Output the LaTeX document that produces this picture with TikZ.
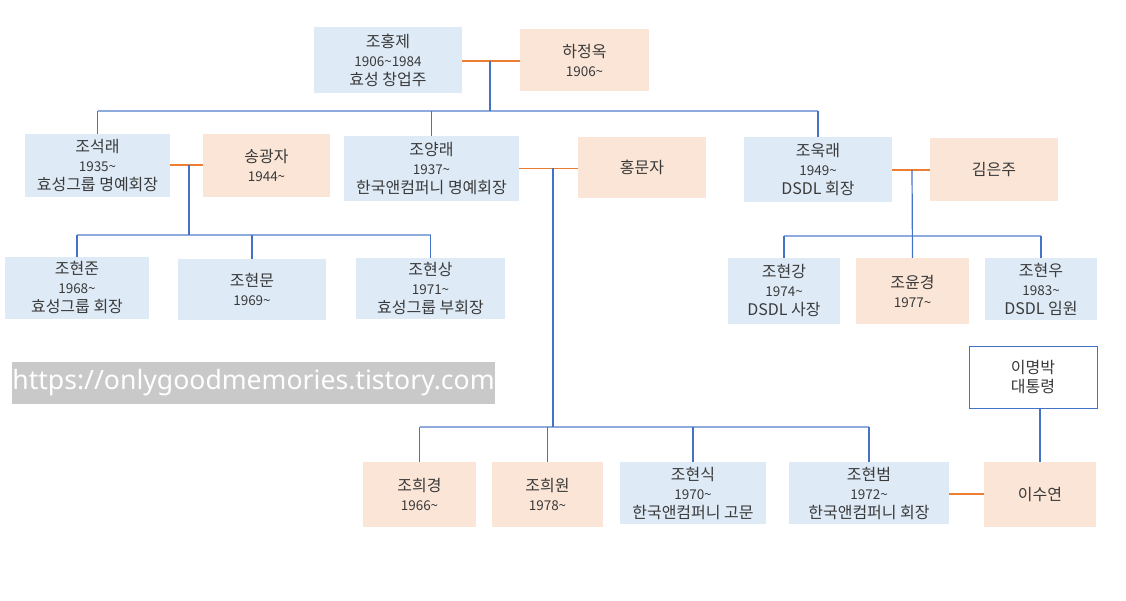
\documentclass[tikz,border=0pt]{standalone}
\usepackage{fontspec}
\setmainfont{Noto Sans CJK KR}
\newfontfamily\urlfont{Noto Sans}
\definecolor{bfill}{HTML}{DEEBF7}
\definecolor{ofill}{HTML}{FBE5D6}
\definecolor{bline}{HTML}{4472C4}
\definecolor{busline}{HTML}{8FAADC}
\definecolor{oline}{HTML}{ED7D31}
\definecolor{txt}{HTML}{3A3A3A}
\definecolor{urlgray}{HTML}{C9C9C9}
\newcommand{\nm}[1]{{\fontsize{16}{19}\selectfont #1}}
\newcommand{\yr}[1]{{\fontsize{13.5}{19}\selectfont #1}}
\newcommand{\ds}[1]{{\fontsize{16}{19}\selectfont #1}}
\tikzset{
  person/.style={inner sep=0pt, align=center, text=txt, font=\fontsize{16}{19}\selectfont},
  bperson/.style={person, fill=bfill},
  operson/.style={person, fill=ofill},
  marr/.style={draw=oline, line width=1.2pt},
  kid/.style={draw=bline, line width=1.2pt},
  bus/.style={draw=busline, line width=2pt},
}
\begin{document}
\begin{tikzpicture}[x=1pt,y=-1pt]
\useasboundingbox (0,0) rectangle (1126,600);
% generation 1
\node[bperson, minimum width=148pt, minimum height=66pt] (hong) at (388,60) {\nm{조홍제}\\\yr{1906\textasciitilde1984}\\\ds{효성 창업주}};
\node[operson, minimum width=129pt, minimum height=62pt] (ha) at (584.5,60) {\nm{하정옥}\\\yr{1906\textasciitilde}};
% generation 2
\node[bperson, minimum width=145pt, minimum height=63pt] (seok) at (97.5,165.5) {\nm{조석래}\\\yr{1935\textasciitilde}\\\ds{효성그룹 명예회장}};
\node[operson, minimum width=127pt, minimum height=63pt] (song) at (266.5,165.5) {\nm{송광자}\\\yr{1944\textasciitilde}};
\node[bperson, minimum width=175pt, minimum height=65pt] (yang) at (431.5,168.5) {\nm{조양래}\\\yr{1937\textasciitilde}\\\ds{한국앤컴퍼니 명예회장}};
\node[operson, minimum width=128pt, minimum height=61pt] (hongm) at (642,167.5) {\nm{홍문자}};
\node[bperson, minimum width=148pt, minimum height=65pt] (wook) at (818,169.5) {\nm{조욱래}\\\yr{1949\textasciitilde}\\\ds{DSDL 회장}};
\node[operson, minimum width=128pt, minimum height=63pt] (kim) at (994,169.5) {\nm{김은주}};
% generation 3 (left)
\node[bperson, minimum width=144pt, minimum height=62pt] (hj) at (77,288) {\nm{조현준}\\\yr{1968\textasciitilde}\\\ds{효성그룹 회장}};
\node[bperson, minimum width=148pt, minimum height=61pt] (hm) at (252,289.5) {\nm{조현문}\\\yr{1969\textasciitilde}};
\node[bperson, minimum width=149pt, minimum height=61pt] (hs) at (430.5,288.5) {\nm{조현상}\\\yr{1971\textasciitilde}\\\ds{효성그룹 부회장}};
% generation 3 (right)
\node[bperson, minimum width=112pt, minimum height=66pt] (hg) at (784,291) {\nm{조현강}\\\yr{1974\textasciitilde}\\\ds{DSDL 사장}};
\node[operson, minimum width=113pt, minimum height=66pt] (yk) at (912.5,291) {\nm{조윤경}\\\yr{1977\textasciitilde}};
\node[bperson, minimum width=112pt, minimum height=62pt] (hw) at (1041,289) {\nm{조현우}\\\yr{1983\textasciitilde}\\\ds{DSDL 임원}};
% generation 3 (middle, bottom)
\node[operson, minimum width=113pt, minimum height=65pt] (hk) at (419.5,494.5) {\nm{조희경}\\\yr{1966\textasciitilde}};
\node[operson, minimum width=111pt, minimum height=65pt] (hwn) at (547.5,494.5) {\nm{조희원}\\\yr{1978\textasciitilde}};
\node[bperson, minimum width=146pt, minimum height=62pt] (hsk) at (693,493) {\nm{조현식}\\\yr{1970\textasciitilde}\\\ds{한국앤컴퍼니 고문}};
\node[bperson, minimum width=160pt, minimum height=62pt] (hb) at (869,493) {\nm{조현범}\\\yr{1972\textasciitilde}\\\ds{한국앤컴퍼니 회장}};
\node[operson, minimum width=112pt, minimum height=65pt] (lee) at (1040,494.5) {\nm{이수연}};
\node[person, draw=bline, fill=white, line width=1pt, minimum width=128pt, minimum height=62pt] (mb) at (1033,377) {\ds{이명박}\\\ds{대통령}};
% url watermark
\node[fill=urlgray, text=white, inner sep=0pt, minimum width=483pt, minimum height=42pt, font=\urlfont\fontsize{26.6}{30}\selectfont] (url) at (253.5,383) {https://onlygoodmemories.tistory.com};
% marriages
\draw[marr] (hong.east |- 0,61) -- (ha.west |- 0,61);
\draw[marr] (seok.east |- 0,165) -- (song.west |- 0,165);
\draw[marr] (yang.east) -- (hongm.west |- yang.east);
\draw[marr] (wook.east |- 0,170) -- (kim.west |- 0,170);
\draw[marr] (hb.east |- 0,494) -- (lee.west |- 0,494);
% junction coordinates
\coordinate (j1) at (490,61);
\coordinate (b1) at (490,111);
\coordinate (j2) at (189,165);
\coordinate (b2) at (189,235);
\coordinate (j3) at (553,168);
\coordinate (b3) at (553,427);
\coordinate (j4) at (912,170);
\coordinate (b4) at (912,236);
% buses
\draw[bus] (seok.north |- b1) -- (wook.north |- b1);
\draw[bus] (hj.north |- b2) -- (hs.north |- b2);
\draw[bus] (hk.north |- b3) -- (hb.north |- b3);
\draw[bus] (hg.north |- b4) -- (hw.north |- b4);
% descent lines
\draw[kid] (j1) -- (b1);
\draw[kid] (seok.north) -- (seok.north |- b1);
\draw[kid] (yang.north) -- (yang.north |- b1);
\draw[kid] (wook.north) -- (wook.north |- b1);
\draw[kid] (j2) -- (b2);
\draw[kid] (hj.north) -- (hj.north |- b2);
\draw[kid] (hm.north) -- (hm.north |- b2);
\draw[kid] (hs.north) -- (hs.north |- b2);
\draw[kid] (j3) -- (b3);
\draw[kid] (hk.north) -- (hk.north |- b3);
\draw[kid] (hwn.north) -- (hwn.north |- b3);
\draw[kid] (hsk.north) -- (hsk.north |- b3);
\draw[kid] (hb.north) -- (hb.north |- b3);
\draw[kid] (j4) -- (yk.north);
\draw[kid] (hg.north) -- (hg.north |- b4);
\draw[kid] (hw.north) -- (hw.north |- b4);
\draw[kid] (lee.north) -- (lee.north |- mb.south);
\end{tikzpicture}
\end{document}
